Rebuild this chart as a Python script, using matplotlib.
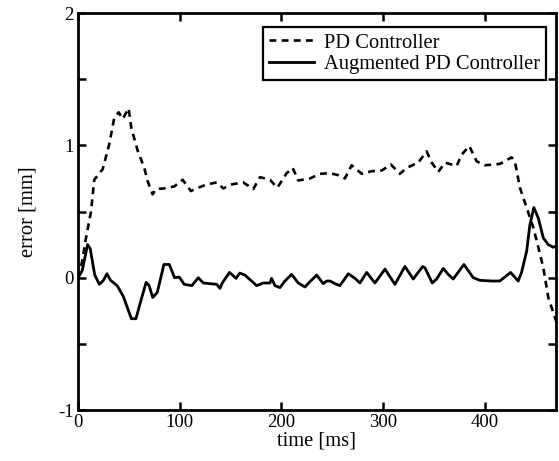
import matplotlib
matplotlib.use("Agg")
import matplotlib.pyplot as plt
from matplotlib.ticker import MultipleLocator

plt.rcParams['font.family'] = ['Liberation Serif', 'DejaVu Serif']
plt.rcParams['axes.unicode_minus'] = False

# PD controller error (dashed)
t_pd = [0, 4, 7.9, 12.8, 16, 24.3, 30.8, 35.7, 40, 44,
        49.8, 52.5, 58.7, 65.2, 68.5, 73.4, 76.7, 84.9, 94.7, 102.9,
        111, 116.7, 126.5, 136.4, 142.9, 151.1, 162.6, 172.4, 179, 188.8,
        196, 205.2, 211.1, 216.6, 228, 238, 247.8, 256, 262.5, 269.1,
        279, 288.8, 298.6, 307.8, 316.6, 323.2, 334.6, 342.9, 347.8, 354.3,
        360.9, 372.4, 377.3, 384.8, 392, 400.2, 414.9, 426.4, 429.6, 434.6,
        441.2, 447.7, 452.7, 457.6, 462.5, 470.7]
e_pd = [0.0, 0.12, 0.30, 0.50, 0.74, 0.82, 1.01, 1.21, 1.25, 1.20,
        1.28, 1.13, 0.96, 0.83, 0.73, 0.63, 0.67, 0.675, 0.69, 0.74,
        0.655, 0.675, 0.705, 0.72, 0.675, 0.705, 0.72, 0.67, 0.76, 0.74,
        0.68, 0.79, 0.83, 0.735, 0.75, 0.785, 0.79, 0.775, 0.75, 0.85,
        0.785, 0.805, 0.81, 0.855, 0.785, 0.83, 0.87, 0.955, 0.87, 0.80,
        0.87, 0.845, 0.93, 0.995, 0.88, 0.85, 0.86, 0.91, 0.88, 0.68,
        0.53, 0.38, 0.23, 0.075, -0.15, -0.34]

# augmented PD controller error (solid)
t_aug = [0, 4, 9.5, 12, 16.5, 21, 25, 28.5, 32, 38.5,
         44.5, 52.5, 57, 61.8, 67, 70, 73.5, 78, 84.5, 89.8,
         95, 99.5, 104.5, 112, 118.3, 123.2, 129.8, 136.4, 139.6, 141.9,
         149, 155.5, 159, 164.2, 175.7, 182.2, 188.8, 190.4, 193.7, 198.6,
         203.5, 210.1, 216.6, 223.2, 228.1, 234.7, 241.2, 244.5, 247.8, 252.7,
         257.6, 265.8, 272.4, 277.3, 283.9, 292, 301.9, 311.7, 321.5, 329.7,
         339, 341.2, 348.4, 352.7, 359.2, 364.1, 369, 379.5, 388.7, 395.3,
         406.8, 414.9, 425.4, 432.9, 436.2, 441.2, 444.4, 448.3, 452.7, 457.6,
         462.5, 467.4, 470.7]
e_aug = [0.0, 0.05, 0.25, 0.22, 0.02, -0.05, -0.02, 0.03, -0.02, -0.06,
         -0.14, -0.31, -0.31, -0.175, -0.035, -0.06, -0.15, -0.11, 0.10, 0.10,
         0.0, 0.005, -0.05, -0.06, 0.0, -0.04, -0.045, -0.05, -0.08, -0.04,
         0.04, -0.005, 0.035, 0.02, -0.06, -0.04, -0.04, -0.005, -0.06, -0.075,
         -0.025, 0.025, -0.04, -0.07, -0.03, 0.02, -0.045, -0.025, -0.025, -0.045,
         -0.06, 0.03, -0.005, -0.04, 0.04, -0.04, 0.065, -0.05, 0.085, -0.01,
         0.085, 0.075, -0.04, -0.01, 0.07, 0.025, -0.01, 0.10, 0.0, -0.02,
         -0.025, -0.025, 0.04, -0.025, 0.04, 0.20, 0.40, 0.53, 0.45, 0.30,
         0.25, 0.23, 0.24]

fig = plt.figure(figsize=(5.59, 4.61), dpi=100)
ax = fig.add_axes([0.1395, 0.1106, 0.855, 0.861])

ax.plot(t_pd, e_pd, color='black', lw=1.9, linestyle=(0, (2.6, 2.0)),
        label='PD Controller')
ax.plot(t_aug, e_aug, color='black', lw=2.0, label='Augmented PD Controller')

ax.set_xlim(0, 470)
ax.set_ylim(-1, 2)
ax.xaxis.set_major_locator(MultipleLocator(100))
ax.yaxis.set_major_locator(MultipleLocator(1))
ax.yaxis.set_minor_locator(MultipleLocator(0.5))
ax.tick_params(which='both', direction='in', top=True, right=True,
               length=6, width=1.8, labelsize=13.5, pad=3)
for s in ax.spines.values():
    s.set_linewidth(2.0)

ax.set_xlabel('time [ms]', fontsize=14.8, labelpad=0)
ax.set_ylabel('error [mm]', fontsize=14.8, labelpad=15)

leg = ax.legend(loc='upper right', bbox_to_anchor=(0.979, 0.965),
                borderaxespad=0, fontsize=14.8, fancybox=False,
                edgecolor='black', framealpha=1, handlelength=2.2,
                borderpad=0.3, labelspacing=0.1, handletextpad=0.45)
leg.get_frame().set_linewidth(1.6)

fig.savefig('out.png', dpi=100)
